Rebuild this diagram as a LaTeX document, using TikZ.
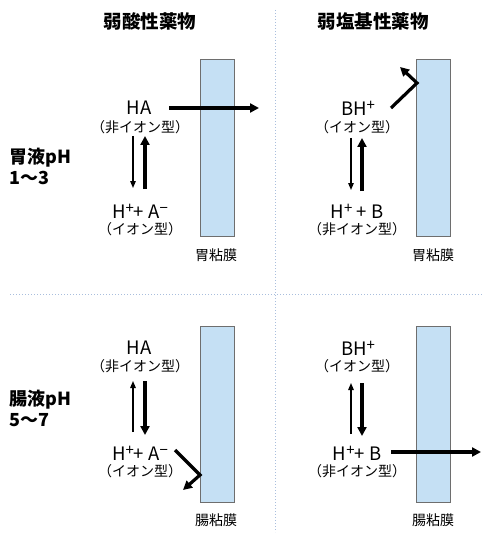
\documentclass[tikz,border=0pt]{standalone}
\usepackage{fontspec}
\setmainfont{Noto Sans CJK JP}
\usetikzlibrary{arrows.meta,calc}
\definecolor{memfill}{HTML}{C5E0F4}
\definecolor{memline}{HTML}{6E6E6E}
\definecolor{dotc}{HTML}{A9BEDD}
\tikzset{
  title/.style={font=\fontsize{18.5}{20}\bfseries\selectfont},
  phlab/.style={font=\fontsize{18}{21}\bfseries\selectfont, align=left, anchor=west},
  chem/.style={font=\fontsize{18.5}{20}\selectfont, inner sep=0pt},
  sub/.style={font=\fontsize{14}{15}\selectfont, inner sep=0pt},
  memlab/.style={font=\fontsize{14}{15}\selectfont, inner sep=0pt},
  membrane/.style={draw=memline, fill=memfill, line width=1pt, minimum width=34pt, minimum height=176pt, inner sep=0pt},
  thickarr/.style={line width=3.2pt, -{Triangle[length=9pt,width=9pt]}},
  thinarr/.style={line width=1.3pt, -{Triangle[length=7pt,width=5.5pt]}},
  bentarr/.style={line width=3.2pt, -{Triangle[length=9pt,width=9pt]}},
  sep/.style={draw=dotc, line width=1pt, dotted},
}
\newcommand{\sps}[1]{\raisebox{0.28em}{\fontsize{15}{15}\selectfont #1}}
\begin{document}
\begin{tikzpicture}[x=1pt,y=-1pt]
\useasboundingbox (0,0) rectangle (490,540);
% separators
\draw[sep] (275,10) -- (275,532);
\draw[sep] (10,294) -- (482,294);
% titles
\node[title] (t1) at (150,21) {弱酸性薬物};
\node[title] (t2) at (373,21) {弱塩基性薬物};
% pH labels
\node[phlab] (ph1) at (6,166) {胃液pH\\1〜3};
\node[phlab] (ph2) at (6,408) {腸液pH\\5〜7};
% membranes
\node[membrane] (m1) at (217,148) {};
\node[membrane] (m2) at (433.5,148) {};
\node[membrane] (m3) at (217,414.5) {};
\node[membrane] (m4) at (433.5,414.5) {};
\node[memlab] (ml1) at (216,255) {胃粘膜};
\node[memlab] (ml2) at (433,255) {胃粘膜};
\node[memlab] (ml3) at (216,520) {腸粘膜};
\node[memlab] (ml4) at (433,520) {腸粘膜};
% --- top left: weak acid in stomach
\node[chem] (ha1) at (139,108) {HA};
\node[sub] (ha1s) at (140,127) {（非イオン型）};
\node[chem] (a1) at (140,211) {H\sps{+}+ A\sps{−}};
\node[sub] (a1s) at (140,229) {（イオン型）};
\coordinate (ha1out) at (259,108);
\draw[thickarr] (169,108) -- (ha1out);
\coordinate (d1a) at (133,136); \coordinate (d1b) at (133,188);
\coordinate (u1a) at (145,189); \coordinate (u1b) at (145,136);
\draw[thinarr] (d1a) -- (d1b);
\draw[thickarr] (u1a) -- (u1b);
% --- top right: weak base in stomach
\node[chem] (bh2) at (358,108) {BH\sps{+}};
\node[sub] (bh2s) at (357,127) {（イオン型）};
\node[chem] (b2) at (357,211) {H\sps{+} + B};
\node[sub] (b2s) at (357,229) {（非イオン型）};
\coordinate (bh2o) at (391,108);
\coordinate (bh2h) at (417,83);
\coordinate (bh2e) at (400,67);
\draw[bentarr] (bh2o) -- (bh2h) -- (bh2e);
\coordinate (d2a) at (351,138); \coordinate (d2b) at (351,190);
\coordinate (u2a) at (362,191); \coordinate (u2b) at (362,138);
\draw[thinarr] (d2a) -- (d2b);
\draw[thickarr] (u2a) -- (u2b);
% --- bottom left: weak acid in intestine
\node[chem] (ha3) at (139,348) {HA};
\node[sub] (ha3s) at (140,366) {（非イオン型）};
\node[chem] (a3) at (140,453) {H\sps{+}+ A\sps{−}};
\node[sub] (a3s) at (140,471) {（イオン型）};
\coordinate (u3a) at (133,432); \coordinate (u3b) at (133,381);
\coordinate (d3a) at (145,381); \coordinate (d3b) at (145,435);
\draw[thinarr] (u3a) -- (u3b);
\draw[thickarr] (d3a) -- (d3b);
\coordinate (a3o) at (175,450);
\coordinate (a3h) at (200,475);
\coordinate (a3e) at (183,490);
\draw[bentarr] (a3o) -- (a3h) -- (a3e);
% --- bottom right: weak base in intestine
\node[chem] (bh4) at (358,348) {BH\sps{+}};
\node[sub] (bh4s) at (357,366) {（イオン型）};
\node[chem] (b4) at (357,453) {H\sps{+}+ B};
\node[sub] (b4s) at (357,471) {（非イオン型）};
\coordinate (u4a) at (351,434); \coordinate (u4b) at (351,383);
\coordinate (d4a) at (362,383); \coordinate (d4b) at (362,436);
\draw[thinarr] (u4a) -- (u4b);
\draw[thickarr] (d4a) -- (d4b);
\coordinate (b4out) at (481,452);
\draw[thickarr] (391,452) -- (b4out);
\end{tikzpicture}
\end{document}
